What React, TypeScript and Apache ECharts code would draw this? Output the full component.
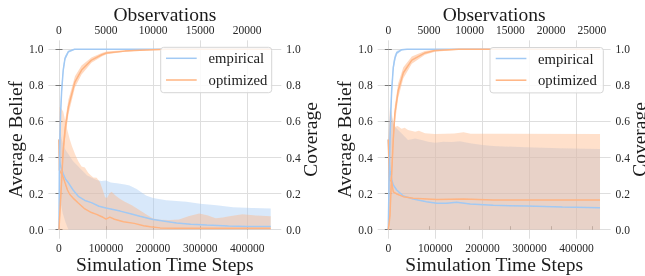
import React, { useEffect, useRef } from 'react';
import * as echarts from 'echarts';

const FONT = '"Liberation Serif", "Times New Roman", serif';
const BLUE = '#a1c9f4';
const ORANGE = '#ffb482';
const BLUE_BAND = 'rgba(161,201,244,0.42)';
const ORANGE_BAND = 'rgba(255,180,130,0.42)';
const BLUE_COV_BAND = 'rgba(161,201,244,0.5)';
const ORANGE_COV_BAND = 'rgba(255,180,130,0.5)';

// ticks / labels
const stepTicks = [0, 100000, 200000, 300000, 400000];
const yTicks = [0, 0.2, 0.4, 0.6, 0.8, 1.0];
const obsTicksLeft = [0, 5000, 10000, 15000, 20000];
const obsTicksRight = [0, 5000, 10000, 15000, 20000, 25000];
const legendNames = ['empirical', 'optimized'];
const titleX = 'Simulation Time Steps';
const titleTop = 'Observations';
const titleLeft = 'Average Belief';
const titleRight = 'Coverage';

// ---------- left panel ----------
const leftEmpBeliefMean = [[0,0.5],[1000,0.4],[2000,0.37],[5000,0.34],[9000,0.31],[14000,0.28],[20000,0.26],[30000,0.22],[41000,0.185],[55000,0.162],[69000,0.15],[85000,0.13],[100000,0.12],[115000,0.112],[130000,0.103],[150000,0.09],[172000,0.075],[200000,0.057],[225000,0.047],[250000,0.037],[280000,0.03],[314000,0.026],[360000,0.021],[400000,0.018],[450000,0.017]];
const leftEmpBeliefHi = [[0,0.5],[1500,0.55],[6000,0.5],[12000,0.45],[30000,0.38],[60000,0.3],[80000,0.275],[90000,0.27],[100000,0.272],[110000,0.262],[123000,0.257],[140000,0.25],[150000,0.245],[165000,0.225],[185000,0.19],[200000,0.175],[228000,0.163],[271000,0.155],[300000,0.144],[335000,0.135],[370000,0.125],[410000,0.12],[450000,0.118]];
const leftEmpBeliefLo = [[0,0.5],[1000,0.2],[2500,0.16],[8000,0.09],[14000,0.04],[20000,0],[450000,0]];
const leftOptBeliefMean = [[0,0.5],[800,0.33],[3000,0.32],[5700,0.31],[9000,0.29],[12800,0.26],[18000,0.22],[23000,0.195],[30000,0.175],[41000,0.148],[55000,0.115],[69000,0.095],[80000,0.085],[91000,0.072],[100000,0.058],[108000,0.07],[118000,0.058],[137000,0.044],[160000,0.035],[180000,0.022],[194000,0.016],[215000,0.01],[250000,0.008],[450000,0.008]];
const leftOptBeliefHi = [[0,0.5],[1500,0.68],[5000,0.67],[9000,0.655],[12800,0.61],[18000,0.55],[23000,0.5],[28000,0.46],[34000,0.42],[41000,0.38],[48000,0.35],[55000,0.345],[62000,0.315],[68000,0.3],[73000,0.29],[80000,0.288],[87000,0.265],[93000,0.22],[98000,0.18],[102000,0.175],[107000,0.2],[112000,0.21],[120000,0.19],[130000,0.17],[140000,0.155],[155000,0.135],[170000,0.11],[185000,0.085],[199000,0.063],[213000,0.055],[235000,0.053],[255000,0.056],[275000,0.075],[298000,0.09],[315000,0.08],[333000,0.063],[348000,0.068],[362000,0.075],[390000,0.085],[420000,0.078],[450000,0.075]];
const leftOptBeliefLo = [[0,0.5],[600,0],[450000,0]];
const leftEmpCovMean = [[0,0],[700,0.31],[2000,0.5],[3500,0.65],[5700,0.77],[9000,0.885],[12800,0.95],[20000,0.987],[33000,1.0],[450000,1.0]];
const leftEmpCovLo = [[0,0],[700,0.2],[2000,0.42],[3500,0.59],[5700,0.73],[9000,0.86],[12800,0.935],[20000,0.98],[33000,0.997],[450000,1.0]];
const leftEmpCovHi = [[0,0],[700,0.42],[2000,0.58],[3500,0.71],[5700,0.81],[9000,0.91],[12800,0.965],[20000,0.994],[33000,1.0],[450000,1.0]];
const leftOptCovMean = [[0,0],[2000,0.1],[5700,0.275],[9000,0.44],[12800,0.55],[20000,0.68],[34000,0.82],[48000,0.885],[69000,0.94],[91000,0.97],[101000,0.98],[140000,0.99],[172000,0.995],[230000,1.0],[450000,1.0]];
const leftOptCovLo = [[0,0],[2000,0.06],[5700,0.22],[9000,0.39],[12800,0.5],[20000,0.64],[34000,0.79],[48000,0.86],[69000,0.925],[91000,0.96],[101000,0.972],[140000,0.986],[172000,0.993],[230000,0.999],[450000,1.0]];
const leftOptCovHi = [[0,0],[2000,0.15],[5700,0.33],[9000,0.49],[12800,0.6],[20000,0.72],[34000,0.85],[48000,0.91],[69000,0.955],[91000,0.98],[101000,0.988],[140000,0.995],[172000,0.998],[230000,1.0],[450000,1.0]];

// ---------- right panel ----------
const rightEmpBeliefMean = [[0,0.5],[1500,0.4],[3600,0.33],[7200,0.28],[10600,0.248],[17800,0.22],[32000,0.187],[53000,0.17],[81000,0.155],[103000,0.146],[124000,0.146],[145000,0.152],[174000,0.143],[223000,0.135],[294000,0.131],[370000,0.126],[450000,0.122]];
const rightEmpBeliefHi = [[0,0.5],[3600,0.66],[7200,0.626],[14000,0.57],[28000,0.534],[42000,0.497],[57000,0.505],[71000,0.497],[85000,0.488],[99000,0.482],[117000,0.488],[135000,0.486],[152000,0.49],[174000,0.479],[200000,0.47],[223000,0.464],[294000,0.457],[365000,0.451],[450000,0.448]];
const rightEmpBeliefLo = [[0,0.5],[1000,0.1],[3000,0],[450000,0]];
const rightOptBeliefMean = [[0,0.5],[2000,0.3],[3600,0.275],[7200,0.266],[10600,0.21],[17800,0.198],[32000,0.183],[53000,0.174],[103000,0.168],[160000,0.17],[223000,0.165],[450000,0.165]];
const rightOptBeliefHi = [[0,0.5],[3600,0.68],[7200,0.65],[10600,0.59],[14000,0.57],[20000,0.575],[28000,0.56],[35000,0.565],[42000,0.553],[57000,0.543],[65000,0.548],[78000,0.534],[99000,0.53],[120000,0.532],[140000,0.533],[160000,0.54],[175000,0.532],[450000,0.53]];
const rightOptBeliefLo = [[0,0.5],[500,0],[450000,0]];
const rightEmpCovMean = [[0,0],[1500,0.25],[3600,0.5],[5500,0.66],[7200,0.77],[10600,0.9],[14000,0.95],[17800,0.98],[28000,0.997],[40000,1.0],[450000,1.0]];
const rightEmpCovLo = [[0,0],[1500,0.17],[3600,0.43],[5500,0.6],[7200,0.72],[10600,0.87],[14000,0.93],[17800,0.97],[28000,0.993],[40000,0.999],[450000,1.0]];
const rightEmpCovHi = [[0,0],[1500,0.33],[3600,0.57],[5500,0.72],[7200,0.82],[10600,0.93],[14000,0.97],[17800,0.99],[28000,1.0],[40000,1.0],[450000,1.0]];
const rightOptCovMean = [[0,0],[3600,0.08],[7200,0.31],[10600,0.5],[14000,0.645],[21000,0.77],[32000,0.87],[50000,0.94],[78000,0.98],[99000,0.993],[150000,1.0],[450000,1.0]];
const rightOptCovLo = [[0,0],[3600,0.03],[7200,0.24],[10600,0.44],[14000,0.59],[21000,0.73],[32000,0.84],[50000,0.92],[78000,0.97],[99000,0.987],[150000,0.998],[450000,1.0]];
const rightOptCovHi = [[0,0],[3600,0.14],[7200,0.38],[10600,0.56],[14000,0.69],[21000,0.81],[32000,0.9],[50000,0.96],[78000,0.99],[99000,0.998],[150000,1.0],[450000,1.0]];

// axis ranges (matplotlib-like 5% margins)
const STEP_MIN = -22500;
const STEP_MAX = 472500;
const OBS_RATIO_LEFT = 20;
const OBS_RATIO_RIGHT = 17.3;

const GRID_W = 232.9;
const GRID_H = 198.4;
const GRID_TOP = 40.3;
const GRID_LEFTS = [48.4, 377.7];

const lineSeries = (data: number[][], color: string, xi: number, yi: number, z: number) => ({
  type: 'line', data, xAxisIndex: xi, yAxisIndex: yi, z,
  showSymbol: false, symbol: 'none', silent: true,
  lineStyle: { width: 1.5, color }, itemStyle: { color },
});

const bandSeries = (lo: number[][], hi: number[][], fill: string, xi: number, yi: number, z: number) => ({
  type: 'custom', xAxisIndex: xi, yAxisIndex: yi, z, silent: true,
  data: [[0, 0]],
  renderItem: (_params: any, api: any) => {
    const pts = hi.map((p) => api.coord(p)).concat(lo.slice().reverse().map((p) => api.coord(p)));
    return { type: 'polygon', shape: { points: pts }, style: { fill } };
  },
});

const labelStyle = { fontFamily: FONT, fontSize: 11.5, color: '#262626' };
const xLabelStyle = { ...labelStyle, lineHeight: 10 };
const nameStyle = { fontFamily: FONT, fontSize: 19.5, color: '#1a1a1a' };
const xNameStyle = { ...nameStyle, lineHeight: 16 };

function legendGraphic(x: number, y: number, w: number, lineX0: number, lineX1: number, textX: number) {
  return [
    { type: 'rect', z: 100, shape: { x, y, width: w, height: 45.4, r: 3 }, style: { fill: 'rgba(255,255,255,0.85)', stroke: '#d6d6d6', lineWidth: 1 } },
    { type: 'line', z: 101, shape: { x1: lineX0, y1: y + 11, x2: lineX1, y2: y + 11 }, style: { stroke: BLUE, lineWidth: 1.5 } },
    { type: 'line', z: 101, shape: { x1: lineX0, y1: y + 32.7, x2: lineX1, y2: y + 32.7 }, style: { stroke: ORANGE, lineWidth: 1.5 } },
    { type: 'text', z: 101, style: { text: legendNames[0], x: textX, y: y + 11, font: `14.7px ${FONT}`, fill: '#1a1a1a', textVerticalAlign: 'middle', verticalAlign: 'middle' } },
    { type: 'text', z: 101, style: { text: legendNames[1], x: textX, y: y + 32.7, font: `14.7px ${FONT}`, fill: '#1a1a1a', textVerticalAlign: 'middle', verticalAlign: 'middle' } },
  ];
}

export default function App() {
  const ref = useRef<HTMLDivElement>(null);
  useEffect(() => {
    document.body.style.margin = '0';
    const chart = echarts.init(ref.current!, null, { renderer: 'svg' });

    const xAxes: any[] = [];
    const yAxes: any[] = [];
    const series: any[] = [];
    const panels = [
      { ratio: OBS_RATIO_LEFT, obsTicks: obsTicksLeft,
        eb: [leftEmpBeliefMean, leftEmpBeliefLo, leftEmpBeliefHi], ob: [leftOptBeliefMean, leftOptBeliefLo, leftOptBeliefHi],
        ec: [leftEmpCovMean, leftEmpCovLo, leftEmpCovHi], oc: [leftOptCovMean, leftOptCovLo, leftOptCovHi] },
      { ratio: OBS_RATIO_RIGHT, obsTicks: obsTicksRight,
        eb: [rightEmpBeliefMean, rightEmpBeliefLo, rightEmpBeliefHi], ob: [rightOptBeliefMean, rightOptBeliefLo, rightOptBeliefHi],
        ec: [rightEmpCovMean, rightEmpCovLo, rightEmpCovHi], oc: [rightOptCovMean, rightOptCovLo, rightOptCovHi] },
    ];

    panels.forEach((p, g) => {
      const xb = xAxes.length;
      xAxes.push({
        type: 'value', gridIndex: g, position: 'bottom', min: STEP_MIN, max: STEP_MAX,
        name: titleX, nameLocation: 'middle', nameGap: 17.6, nameMoveOverlap: false, nameTextStyle: xNameStyle,
        axisLine: { show: false },
        axisTick: { show: false, customValues: stepTicks },
        axisLabel: { customValues: stepTicks, formatter: (v: number) => String(v), margin: 4.2, ...xLabelStyle },
        splitLine: { show: true, lineStyle: { color: '#dedede', width: 1 } },
      });
      xAxes.push({
        type: 'value', gridIndex: g, position: 'top', min: STEP_MIN / p.ratio, max: STEP_MAX / p.ratio,
        name: titleTop, nameLocation: 'middle', nameGap: 17.6, nameMoveOverlap: false, nameTextStyle: xNameStyle,
        axisLine: { show: false },
        axisTick: { show: true, length: 3.5, customValues: p.obsTicks, lineStyle: { color: '#8a8a8a' } },
        axisLabel: { customValues: p.obsTicks, formatter: (v: number) => String(v), margin: 5.4, ...xLabelStyle },
        splitLine: { show: false },
      });
      const yl = yAxes.length;
      yAxes.push({
        type: 'value', gridIndex: g, position: 'left', min: -0.05, max: 1.05,
        name: titleLeft, nameLocation: 'middle', nameGap: 23.3, nameMoveOverlap: false, nameTextStyle: nameStyle,
        axisLine: { show: false },
        axisTick: { show: true, length: 3.5, customValues: yTicks, lineStyle: { color: '#777' } },
        axisLabel: { customValues: yTicks, formatter: (v: number) => v.toFixed(1), margin: 5, ...labelStyle },
        splitLine: { show: true, lineStyle: { color: '#dedede', width: 1 } },
      });
      yAxes.push({
        type: 'value', gridIndex: g, position: 'right', min: -0.05, max: 1.05,
        name: titleRight, nameLocation: 'middle', nameGap: 18.8, nameMoveOverlap: false, nameTextStyle: nameStyle,
        axisLine: { show: false },
        axisTick: { show: true, length: 3.5, customValues: yTicks, lineStyle: { color: '#777' } },
        axisLabel: { customValues: yTicks, formatter: (v: number) => v.toFixed(1), margin: 5, ...labelStyle },
        splitLine: { show: false },
      });
      const yr = yl + 1;
      // matplotlib order: fills under lines on each axes; twin (coverage) axes above
      series.push(bandSeries(p.eb[1], p.eb[2], BLUE_BAND, xb, yl, 2));
      series.push(bandSeries(p.ob[1], p.ob[2], ORANGE_BAND, xb, yl, 3));
      series.push(lineSeries(p.eb[0], BLUE, xb, yl, 4));
      series.push(lineSeries(p.ob[0], ORANGE, xb, yl, 5));
      series.push(bandSeries(p.ec[1], p.ec[2], BLUE_COV_BAND, xb, yr, 6));
      series.push(bandSeries(p.oc[1], p.oc[2], ORANGE_COV_BAND, xb, yr, 7));
      series.push(lineSeries(p.ec[0], BLUE, xb, yr, 8));
      series.push(lineSeries(p.oc[0], ORANGE, xb, yr, 9));
    });

    chart.setOption({
      animation: false,
      grid: GRID_LEFTS.map((left) => ({ left, top: GRID_TOP, width: GRID_W, height: GRID_H, containLabel: false, outerBoundsMode: 'none' })),
      xAxis: xAxes,
      yAxis: yAxes,
      series,
      graphic: [
        ...legendGraphic(160.7, 47.3, 111, 166, 196.7, 208.6),
        ...legendGraphic(490, 47.5, 113.3, 495.7, 526.4, 538),
      ],
    });
    return () => chart.dispose();
  }, []);
  return <div ref={ref} style={{ position: 'fixed', left: 0, top: 0, width: 645, height: 276 }} />;
}
